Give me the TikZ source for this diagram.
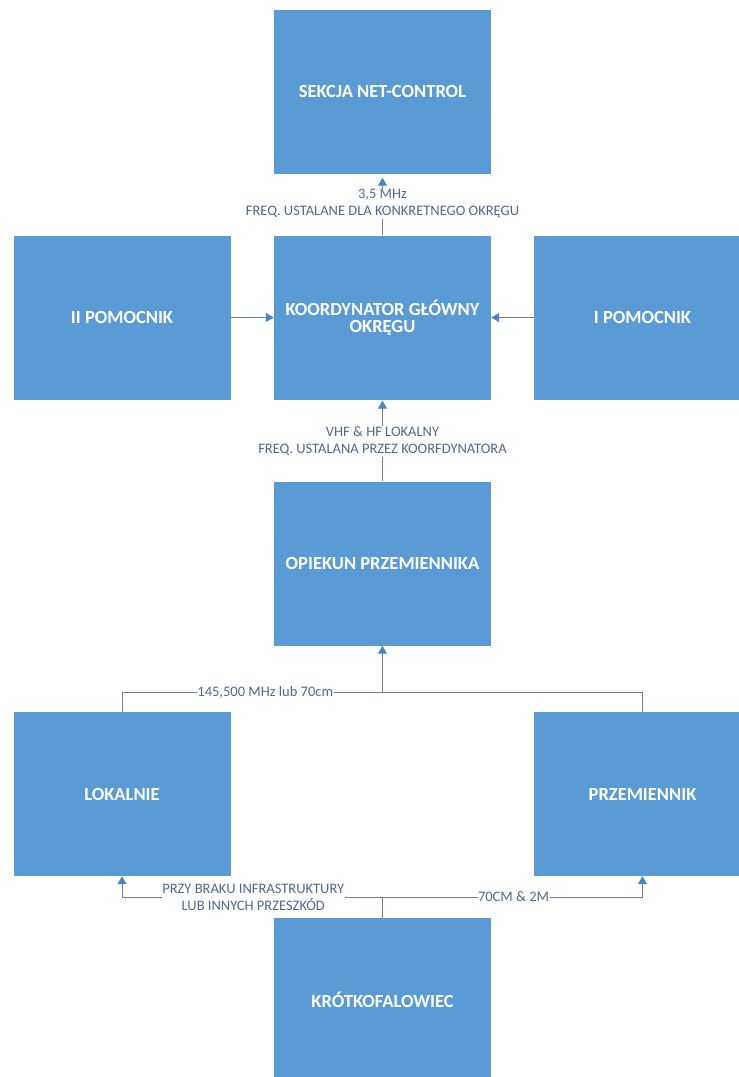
\documentclass[tikz,border=0pt]{standalone}
\usepackage{fontspec}
\setmainfont{Carlito}
\usetikzlibrary{arrows.meta}
\definecolor{boxblue}{HTML}{5B9BD5}
\definecolor{lblcol}{HTML}{4F6A8F}
\definecolor{linecol}{HTML}{6E7E90}
\definecolor{tipcol}{HTML}{4A86C5}
\tikzset{
  box/.style={fill=boxblue, draw=none, minimum width=217pt, minimum height=164pt, inner sep=0pt,
    text=white, font=\fontsize{18.5}{17}\selectfont\bfseries, align=center},
  conn/.style={draw=linecol, line width=1pt, -{Triangle[width=9pt,length=8pt,color=tipcol]}},
  plain/.style={draw=linecol, line width=1pt},
  lbl/.style={fill=white, inner sep=1pt, text=lblcol, font=\fontsize{14.5}{17}\selectfont, align=center}
}
\begin{document}
\begin{tikzpicture}[x=1pt,y=-1pt]
\useasboundingbox (0,0) rectangle (739,1077);
\clip (0,0) rectangle (739,1077);
\node[box] (sekcja) at (382.5,91.5) {SEKCJA NET-CONTROL};
\node[box] (koord) at (382.5,317.5) {KOORDYNATOR GŁÓWNY\\OKRĘGU};
\node[box] (iipom) at (122,317.5) {II POMOCNIK};
\node[box] (ipom) at (642.5,317.5) {I POMOCNIK};
\node[box] (opiekun) at (382.5,563.5) {OPIEKUN PRZEMIENNIKA};
\node[box] (lokal) at (122,794) {LOKALNIE};
\node[box] (przem) at (642.5,794) {PRZEMIENNIK};
\node[box] (krotko) at (382.5,1000) {KRÓTKOFALOWIEC};

\draw[conn, shorten >=4pt] (koord.north) -- (sekcja.south)
  node[lbl, pos=0.51] {3,5 MHz\\FREQ. USTALANE DLA KONKRETNEGO OKRĘGU};
\draw[conn, shorten >=1pt] (opiekun.north) -- (koord.south)
  node[lbl, pos=0.49] {VHF \& HF LOKALNY\\FREQ. USTALANA PRZEZ KOORFDYNATORA};
\draw[conn] (iipom.east) -- (koord.west);
\draw[conn] (ipom.west) -- (koord.east);

\coordinate (jtop) at (382.5,692);
\coordinate (jbot) at (382.5,897);
\draw[conn] (lokal.north) |- (jtop)
  node[lbl, pos=0.775, inner sep=0.5pt] {145,500 MHz lub 70cm} -- (opiekun.south);
\draw[plain] (przem.north) |- (jtop);

\draw[conn] (krotko.north) -- (jbot) -| (lokal.south)
  node[lbl, pos=0.248, inner sep=0.5pt] {PRZY BRAKU INFRASTRUKTURY\\LUB INNYCH PRZESZKÓD};
\draw[conn] (jbot) -| (przem.south)
  node[lbl, pos=0.252, inner sep=0.5pt] {70CM \& 2M};
\end{tikzpicture}
\end{document}
